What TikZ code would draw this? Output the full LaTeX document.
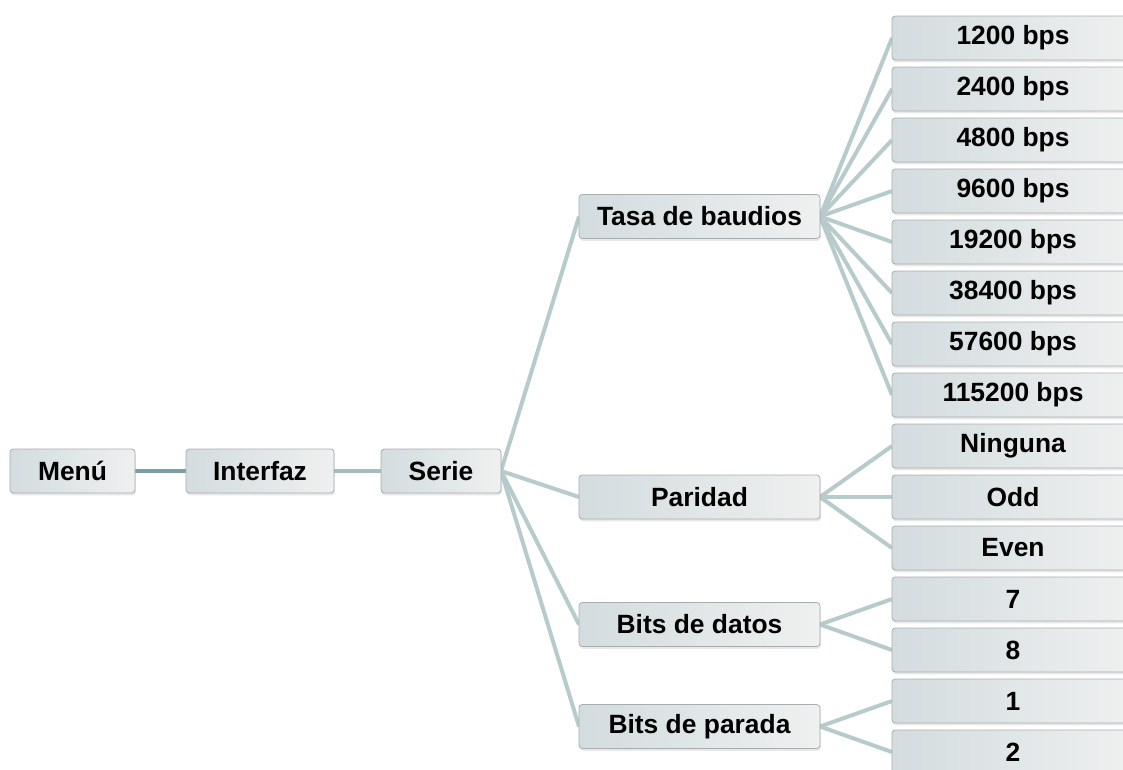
\documentclass[tikz,border=0pt]{standalone}
\usepackage{fontspec}
\setmainfont{Liberation Sans}
\usetikzlibrary{positioning,calc,shadows,backgrounds}
\definecolor{boxleft}{HTML}{D3DCDF}
\definecolor{boxright}{HTML}{EFF0F0}
\definecolor{boxline}{HTML}{A7AEB0}
\definecolor{linkgray}{HTML}{B7CBCC}
\definecolor{linkdark}{HTML}{7B9DA4}
\definecolor{linkmid}{HTML}{A6BCBE}
\begin{document}
\begin{tikzpicture}[
  x=0.75pt, y=-0.75pt, font=\fontsize{19.8}{22}\selectfont\bfseries,
  node distance=5.25pt,
  box/.style={draw=boxline, line width=0.6pt, rounded corners=2.5pt, inner sep=0pt, outer sep=0pt,
    minimum height=33pt, left color=boxleft, right color=boxright,
    drop shadow={shadow xshift=0.6pt, shadow yshift=-1.8pt, opacity=0.18}},
  sub/.style={box, minimum width=180.75pt},
  leaf/.style={box, minimum width=181.5pt},
  link/.style={line width=3pt, linkgray},
]
\useasboundingbox (0,0) rectangle (1123,769);
% ---------------- main row ----------------
\node[box, minimum width=93.75pt] (menu) at (72.5,471) {Menú};
\node[box, minimum width=111pt, right=38.25pt of menu] (interfaz) {Interfaz};
\node[box, minimum width=90pt, right=35.25pt of interfaz] (serie) {Serie};

% ---------------- leaves ----------------
\node[leaf] (b1) at (1013,38) {1200 bps};
\node[leaf, below=of b1] (b2) {2400 bps};
\node[leaf, below=of b2] (b3) {4800 bps};
\node[leaf, below=of b3] (b4) {9600 bps};
\node[leaf, below=of b4] (b5) {19200 bps};
\node[leaf, below=of b5] (b6) {38400 bps};
\node[leaf, below=of b6] (b7) {57600 bps};
\node[leaf, below=of b7] (b8) {115200 bps};
\node[leaf, below=of b8] (pn) {Ninguna};
\node[leaf, below=of pn] (po) {Odd};
\node[leaf, below=of po] (pe) {Even};
\node[leaf, below=of pe] (d7) {7};
\node[leaf, below=of d7] (d8) {8};
\node[leaf, below=of d8] (s1) {1};
\node[leaf, below=of s1] (s2) {2};

% ---------------- settings ----------------
\coordinate (midcol) at (699.5,0);
\path ($(b1)!0.5!(b8)$) coordinate (tasay) ($(d7)!0.5!(d8)$) coordinate (datosy)
      ($(s1)!0.5!(s2)$) coordinate (paraday);
\node[sub] (tasa) at (tasay -| midcol) {Tasa de baudios};
\node[sub] (paridad) at (po -| midcol) {Paridad};
\node[sub] (datos) at (datosy -| midcol) {Bits de datos};
\node[sub] (parada) at (paraday -| midcol) {Bits de parada};

\begin{scope}[on background layer]
\draw[link, linkdark] (menu) -- (interfaz);
\draw[link, linkmid] (interfaz) -- (serie);
\foreach \m in {tasa,paridad,datos,parada} \draw[link] (serie.east) -- (\m.west);
\foreach \b in {b1,b2,b3,b4,b5,b6,b7,b8} \draw[link] (tasa.east) -- (\b.west);
\foreach \b in {pn,po,pe} \draw[link] (paridad.east) -- (\b.west);
\foreach \b in {d7,d8} \draw[link] (datos.east) -- (\b.west);
\foreach \b in {s1,s2} \draw[link] (parada.east) -- (\b.west);
\end{scope}
\end{tikzpicture}
\end{document}
